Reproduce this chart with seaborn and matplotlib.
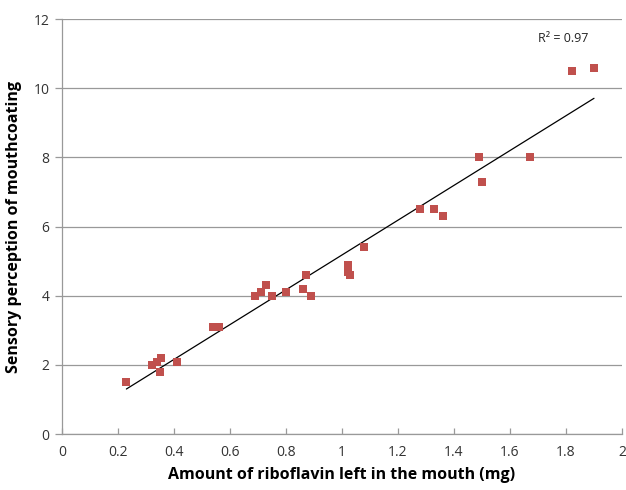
import numpy as np
import pandas as pd
import seaborn as sns
import matplotlib.pyplot as plt

# riboflavin left in mouth (mg) vs sensory score
riboflavin = [0.23, 0.32, 0.34, 0.355, 0.35, 0.41, 0.54, 0.56, 0.69, 0.71, 0.73,
              0.75, 0.80, 0.86, 0.87, 0.89, 1.02, 1.02, 1.03, 1.08, 1.28, 1.33,
              1.36, 1.49, 1.50, 1.67, 1.82, 1.90]
mouthcoating = [1.5, 2.0, 2.1, 2.2, 1.8, 2.1, 3.1, 3.1, 4.0, 4.1, 4.3,
                4.0, 4.1, 4.2, 4.6, 4.0, 4.9, 4.7, 4.6, 5.4, 6.5, 6.5,
                6.3, 8.0, 7.3, 8.0, 10.5, 10.6]
r2_label = "R² = 0.97"

df = pd.DataFrame({"x": riboflavin, "y": mouthcoating})

sns.set_theme(style="white")
plt.rcParams["font.family"] = ["Open Sans", "DejaVu Sans"]

fig = plt.figure(figsize=(6.26, 4.9), dpi=100)
ax = fig.add_axes([0.099, 0.114, 0.8946, 0.847])

sns.regplot(data=df, x="x", y="y", ci=None, truncate=True, ax=ax,
            marker="s",
            scatter_kws=dict(color="#C0504D", s=34, linewidths=0, alpha=1,
                             zorder=3),
            line_kws=dict(color="black", linewidth=0.9, zorder=2))

ax.text(1.7, 11.45, r2_label, fontsize=9, color="#222222", va="center")

ax.set_xlim(0, 2)
ax.set_ylim(0, 12)
ax.set_xticks(np.arange(0, 2.01, 0.2))
ax.set_xticklabels(["0", "0.2", "0.4", "0.6", "0.8", "1", "1.2", "1.4",
                    "1.6", "1.8", "2"])
ax.set_yticks(range(0, 13, 2))
ax.yaxis.grid(True, color="#999999", linewidth=0.9)
ax.set_axisbelow(True)

for s in ["top", "right"]:
    ax.spines[s].set_visible(False)
for s in ["left", "bottom"]:
    ax.spines[s].set_color("#999999")
    ax.spines[s].set_linewidth(0.9)

ax.tick_params(axis="both", labelsize=10, labelcolor="#333333",
               color="#999999", width=0.9, bottom=True, left=True)
ax.tick_params(axis="x", direction="in", length=4, pad=8)
ax.tick_params(axis="y", direction="out", length=5, pad=4)

ax.set_xlabel("Amount of riboflavin left in the mouth (mg)", fontsize=11.5,
              fontweight="bold", color="black", labelpad=5)
ax.set_ylabel("Sensory perception of mouthcoating", fontsize=11.5,
              fontweight="bold", color="black", labelpad=8)

fig.savefig("out.png", dpi=100)
